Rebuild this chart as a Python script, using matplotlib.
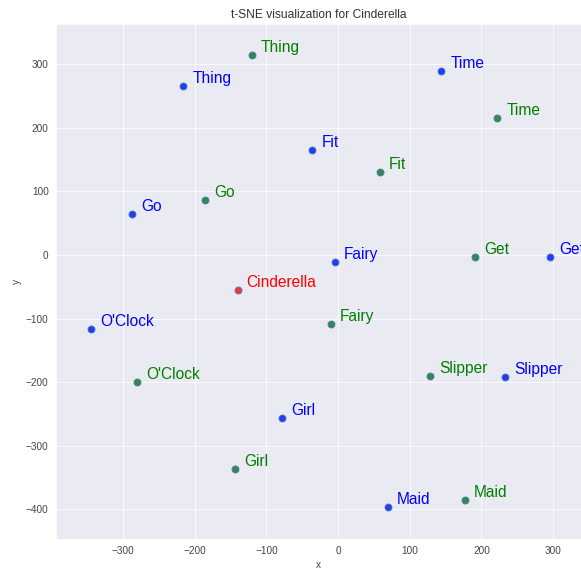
import matplotlib
matplotlib.use("Agg")
import matplotlib.pyplot as plt
import seaborn as sns

# blue set
blue_words = ["Thing", "Go", "Time", "Fit", "Fairy", "Get", "O'Clock", "Girl", "Slipper", "Maid"]
blue_x = [-216, -287, 144, -36, -4, 296, -345, -78, 233, 70]
blue_y = [265, 65, 289, 165, -11, -4, -116, -256, -192, -397]

# green set
green_words = ["Thing", "Go", "Time", "Fit", "Get", "O'Clock", "Girl", "Fairy", "Slipper", "Maid"]
green_x = [-120, -185, 222, 58, 191, -280, -144, -10, 128, 177]
green_y = [315, 86, 215, 130, -3, -199, -337, -109, -191, -385]

# target word
center_word = "Cinderella"
center_x = [-140]
center_y = [-55]

sns.set_style("darkgrid")
plt.rcParams["font.family"] = ["Liberation Sans", "DejaVu Sans"]

fig = plt.figure(figsize=(581 / 72, 569 / 72), dpi=72)
ax = fig.add_axes([55.7 / 581, 1 - 539.3 / 569, (581 - 55.7) / 581, (539.3 - 24) / 569])

groups = [
    (blue_words, blue_x, blue_y, "#1f3cff", "blue"),
    (green_words, green_x, green_y, "#2e8b4a", "green"),
    ([center_word], center_x, center_y, "#e8363a", "red"),
]
for words, xs, ys, face, tcol in groups:
    ax.scatter(xs, ys, s=50, c=face, edgecolors="#5b78b0", linewidths=0.8, zorder=3)
    for w, x, y in zip(words, xs, ys):
        ax.annotate(w, (x, y), xytext=(9, 3), textcoords="offset points",
                    color=tcol, fontsize=15.5, va="baseline", ha="left",
                    annotation_clip=False)

ax.set_xlim(-394, 339)
ax.set_ylim(-447, 363)
ax.set_xticks([-300, -200, -100, 0, 100, 200, 300])
ax.set_yticks([-400, -300, -200, -100, 0, 100, 200, 300])
ax.tick_params(labelsize=10, labelcolor="#444444")
ax.set_xlabel("x", fontsize=10, color="#444444")
ax.set_ylabel("y", fontsize=10, color="#444444")
ax.set_title("t-SNE visualization for Cinderella", fontsize=12, color="#333333")

fig.savefig("out.png", dpi=72)
